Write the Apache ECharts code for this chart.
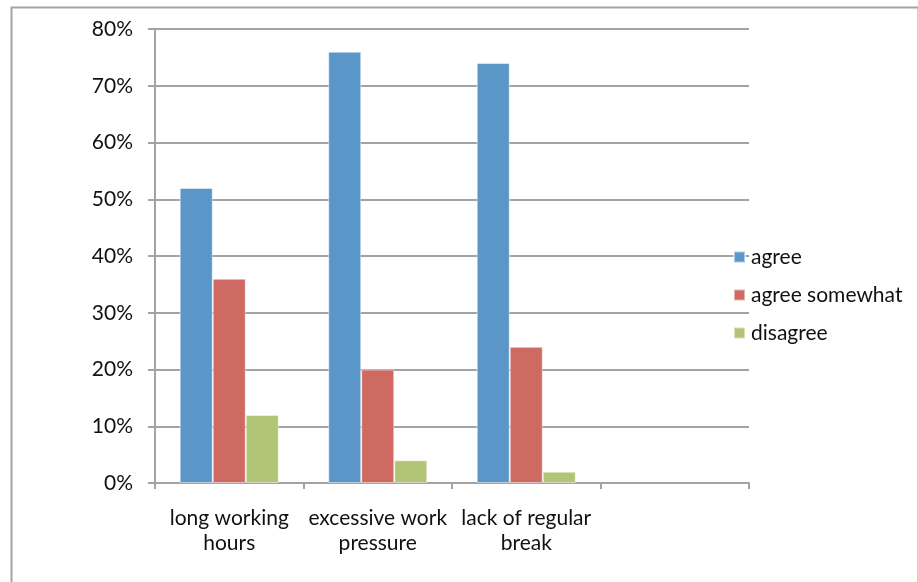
<!DOCTYPE html>
<html>
<head>
<meta charset="utf-8">
<script src="https://cdn.jsdelivr.net/npm/echarts@6/dist/echarts.min.js"></script>
<style>
  html, body { margin: 0; padding: 0; background: #fff; }
  #chart { width: 918px; height: 582px; }
</style>
</head>
<body>
<div id="chart"></div>
<script>
// Survey categories (last slot is an empty category band)
const categories = ['long working\nhours', 'excessive work\npressure', 'lack of regular\nbreak', ''];
const seriesNames = ['agree', 'agree somewhat', 'disagree'];
const agree = [52, 76, 74, null];
const agreeSomewhat = [36, 20, 24, null];
const disagree = [12, 4, 2, null];
const yTicks = [0, 10, 20, 30, 40, 50, 60, 70, 80];

const colors = ['#5A96C8', '#CF6A63', '#B2C475'];
const font = 'Lato, "Liberation Sans", sans-serif';
const gray = '#a3a3a3';
const textColor = '#111';

const chart = echarts.init(document.getElementById('chart'), null, { renderer: 'canvas' });

const values = [agree, agreeSomewhat, disagree];

chart.setOption({
  animation: false,
  backgroundColor: '#fff',
  textStyle: { fontFamily: font },
  graphic: [{
    type: 'rect',
    left: 9, top: 5,
    shape: { width: 907, height: 600 },
    style: { fill: 'none', stroke: gray, lineWidth: 2 },
    silent: true
  }],
  grid: { left: 155, right: 169, top: 29, bottom: 99, containLabel: false },
  legend: {
    orient: 'vertical',
    left: 733, top: 246,
    padding: 0,
    itemWidth: 11, itemHeight: 11,
    itemGap: 16,
    icon: 'rect',
    textStyle: { fontFamily: font, fontSize: 21, color: textColor, lineHeight: 22, padding: [0, 0, 0, 1] },
    data: seriesNames
  },
  xAxis: {
    type: 'category',
    data: categories,
    axisLine: { lineStyle: { color: gray, width: 2 } },
    axisTick: { show: true, length: 6, lineStyle: { color: gray, width: 2 }, alignWithLabel: false },
    axisLabel: { interval: 0, margin: 23, fontSize: 21, color: textColor, lineHeight: 25, fontFamily: font },
    splitLine: { show: false }
  },
  yAxis: {
    type: 'value',
    min: yTicks[0], max: yTicks[yTicks.length - 1], interval: 10,
    axisLine: { show: true, lineStyle: { color: gray, width: 2 } },
    axisTick: { show: true, length: 7, lineStyle: { color: gray, width: 2 } },
    axisLabel: { formatter: '{value}%', margin: 22, fontSize: 21, color: textColor, fontFamily: font },
    splitLine: { show: true, lineStyle: { color: gray, width: 2 } }
  },
  series: seriesNames.map((name, i) => ({
    name,
    type: 'bar',
    data: values[i],
    barGap: '0%',
    barCategoryGap: '33.3%',
    itemStyle: { color: colors[i], borderColor: 'rgba(255,255,255,0.5)', borderWidth: 1 }
  }))
});
</script>
</body>
</html>
